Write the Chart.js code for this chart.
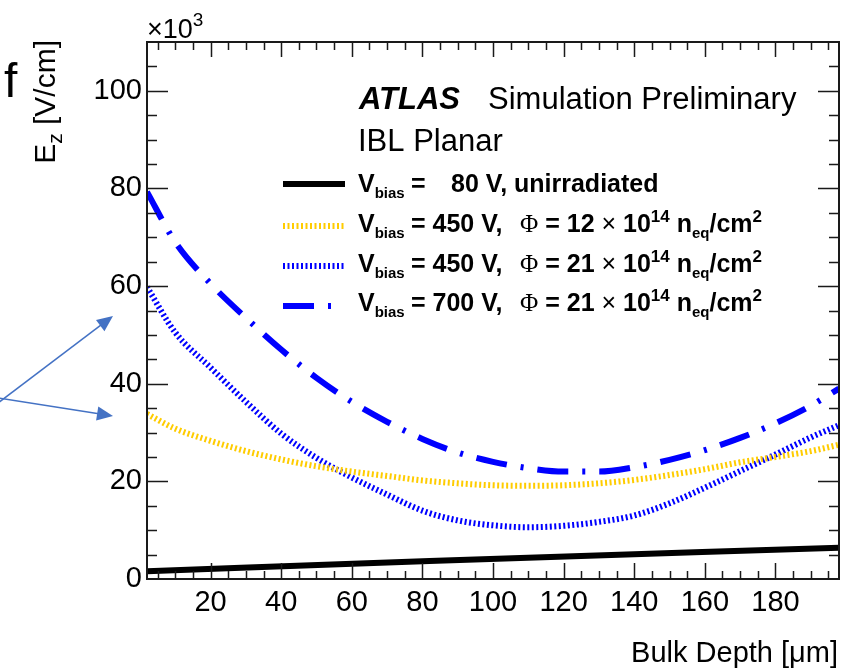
<!DOCTYPE html>
<html>
<head>
<meta charset="utf-8">
<script src="https://cdn.jsdelivr.net/npm/chart.js@4.4.0/dist/chart.umd.min.js"></script>
<style>
  html, body { margin: 0; padding: 0; background: #fff; }
  #wrap { width: 859px; height: 670px; }
</style>
</head>
<body>
<div id="wrap"><canvas id="chartField" width="859" height="670"></canvas></div>
<script>
// Ez vs bulk depth, IBL planar sensor

const depth = [2, 10, 20, 30, 40, 50, 60, 70, 80, 90, 100, 110, 120, 130, 140, 150, 160, 170, 180, 190, 198];
const field700 = [79.3, 69.0, 60.5, 53.5, 47.0, 41.2, 36.3, 32.2, 28.7, 25.9, 24.0, 22.7, 22.0, 22.0, 22.9, 24.4, 26.4, 28.9, 31.9, 35.5, 39.0];
const field450hi = [59.8, 50.5, 43.3, 36.3, 29.8, 24.8, 20.8, 17.3, 14.0, 12.0, 11.0, 10.6, 10.9, 11.7, 13.0, 15.5, 18.7, 22.1, 25.5, 29.0, 31.5];
const field450lo = [33.8, 30.8, 28.3, 26.2, 24.5, 23.1, 22.0, 21.1, 20.2, 19.6, 19.2, 19.1, 19.2, 19.6, 20.3, 21.3, 22.5, 23.9, 25.0, 26.2, 27.5];
const depth80 = [2, 82, 198];
const field80 = [1.6, 3.7, 6.4];

const xTicks = [20, 40, 60, 80, 100, 120, 140, 160, 180];
const yTicks = [0, 20, 40, 60, 80, 100];

const SANS = '"Liberation Sans", Arial, sans-serif';
const SERIF = '"Liberation Serif", "Times New Roman", serif';
const B = 'bold 25px ' + SANS;
const BS = 'bold 15px ' + SANS;
const BP = 'bold 17px ' + SANS;
const R = '25px ' + SANS;
const PHI = '25px ' + SERIF;

const legendRows = [
    [{ t: 'V', f: B }, { t: 'bias', f: BS, dy: 6 }, { t: '=', f: B, x: 411 }, { t: '80 V, unirradiated', f: B, x: 451 }],
    [{ t: 'V', f: B }, { t: 'bias', f: BS, dy: 6 }, { t: '= 450 V,', f: B, x: 411 }, { t: 'Φ', f: PHI, x: 520 }, { t: ' = 12 ', f: B },
     { t: '×', f: R }, { t: ' 10', f: B }, { t: '14', f: BP, dy: -10 }, { t: ' n', f: B }, { t: 'eq', f: BS, dy: 6 }, { t: '/cm', f: B }, { t: '2', f: BP, dy: -10 }],
    [{ t: 'V', f: B }, { t: 'bias', f: BS, dy: 6 }, { t: '= 450 V,', f: B, x: 411 }, { t: 'Φ', f: PHI, x: 520 }, { t: ' = 21 ', f: B },
     { t: '×', f: R }, { t: ' 10', f: B }, { t: '14', f: BP, dy: -10 }, { t: ' n', f: B }, { t: 'eq', f: BS, dy: 6 }, { t: '/cm', f: B }, { t: '2', f: BP, dy: -10 }],
    [{ t: 'V', f: B }, { t: 'bias', f: BS, dy: 6 }, { t: '= 700 V,', f: B, x: 411 }, { t: 'Φ', f: PHI, x: 520 }, { t: ' = 21 ', f: B },
     { t: '×', f: R }, { t: ' 10', f: B }, { t: '14', f: BP, dy: -10 }, { t: ' n', f: B }, { t: 'eq', f: BS, dy: 6 }, { t: '/cm', f: B }, { t: '2', f: BP, dy: -10 }],
];

const DOT = [2, 2.5];
const DASHDOT = [31, 14, 3, 14];
const YELLOW = 'rgb(255,204,0)';
const BLUE = 'rgb(0,0,255)';

const toPts = (xs, ys) => xs.map((x, i) => ({ x: x, y: ys[i] }));

// draw a run of text pieces, moving right as we go
drawRun = (ctx, x, y, parts) => {
    parts.forEach((p) => {
        if (p.x !== undefined) x = p.x;
        ctx.font = p.f;
        ctx.fillText(p.t, x, y + (p.dy || 0));
        x += ctx.measureText(p.t).width;
    });
};

drawArrow = (ctx, x0, y0, x1, y1) => {
    const a = Math.atan2(y1 - y0, x1 - x0);
    const len = 16, half = 7;
    ctx.beginPath();
    ctx.moveTo(x0, y0);
    ctx.lineTo(x1 - Math.cos(a) * len * 0.8, y1 - Math.sin(a) * len * 0.8);
    ctx.stroke();
    ctx.beginPath();
    ctx.moveTo(x1, y1);
    ctx.lineTo(x1 - Math.cos(a) * len - Math.sin(a) * half, y1 - Math.sin(a) * len + Math.cos(a) * half);
    ctx.lineTo(x1 - Math.cos(a) * len + Math.sin(a) * half, y1 - Math.sin(a) * len - Math.cos(a) * half);
    ctx.closePath();
    ctx.fill();
};

const rootFrame = {
    id: 'rootFrame',
    afterDraw(chart) {
        const ctx = chart.ctx;
        const a = chart.chartArea;
        const xs = chart.scales.x, ys = chart.scales.y;
        ctx.save();

        // frame + inward ticks
        ctx.strokeStyle = '#1a1a1a';
        ctx.lineWidth = 2;
        ctx.strokeRect(a.left, a.top, a.right - a.left, a.bottom - a.top);
        ctx.lineWidth = 1.5;
        ctx.beginPath();
        for (let v = 5; v < 198; v += 5) {
            const px = Math.round(xs.getPixelForValue(v)) + 0.5;
            const major = v % 20 === 0;
            ctx.moveTo(px, a.bottom); ctx.lineTo(px, a.bottom - (major ? 16 : 8));
            ctx.moveTo(px, a.top); ctx.lineTo(px, a.top + (major ? 15 : 8));
        }
        for (let v = 5; v < 110; v += 5) {
            const py = Math.round(ys.getPixelForValue(v)) + 0.5;
            const major = v % 20 === 0;
            ctx.moveTo(a.left, py); ctx.lineTo(a.left + (major ? 21 : 10), py);
            ctx.moveTo(a.right, py); ctx.lineTo(a.right - (major ? 21 : 10), py);
        }
        ctx.stroke();

        ctx.fillStyle = '#000';
        ctx.textBaseline = 'alphabetic';
        ctx.textAlign = 'left';

        // x10^3
        drawRun(ctx, 147, 38, [{ t: '×10', f: '27px ' + SANS }, { t: '3', f: '19px ' + SANS, dy: -12 }]);

        // axis titles
        ctx.font = '29px ' + SANS;
        ctx.textAlign = 'right';
        ctx.fillText('Bulk Depth [μm]', 838, 662);
        ctx.textAlign = 'left';

        ctx.save();
        ctx.translate(55, 40);
        ctx.rotate(-Math.PI / 2);
        ctx.font = '30px ' + SANS;
        const w1 = ctx.measureText('E').width;
        ctx.font = '21px ' + SANS;
        const w2 = ctx.measureText('z').width;
        ctx.font = '30px ' + SANS;
        const w3 = ctx.measureText(' [V/cm]').width;
        drawRun(ctx, -(w1 + w2 + w3), 0, [{ t: 'E', f: '30px ' + SANS }, { t: 'z', f: '21px ' + SANS, dy: 7 }, { t: ' [V/cm]', f: '30px ' + SANS }]);
        ctx.restore();

        // stray letter + arrows at the left edge
        ctx.font = '48px ' + SANS;
        ctx.fillText('f', 4, 97);
        ctx.strokeStyle = '#4472C4';
        ctx.fillStyle = '#4472C4';
        ctx.lineWidth = 1.5;
        drawArrow(ctx, -2, 403, 113, 316);
        drawArrow(ctx, -2, 398, 113, 416);

        // ATLAS label
        ctx.fillStyle = '#000';
        ctx.font = 'italic bold 31px ' + SANS;
        ctx.fillText('ATLAS', 359, 109);
        ctx.font = '31px ' + SANS;
        ctx.fillText('Simulation Preliminary', 488, 109);
        ctx.fillText('IBL Planar', 358, 151);

        // legend
        const rowY = [192, 232, 272, 311];
        const sampleY = [184, 226, 266, 306];
        chart.data.datasets.forEach((ds, i) => {
            ctx.strokeStyle = ds.borderColor;
            ctx.lineWidth = ds.borderWidth;
            ctx.setLineDash(ds.borderDash || []);
            ctx.lineCap = 'butt';
            ctx.beginPath();
            ctx.moveTo(283, sampleY[i]);
            ctx.lineTo(345, sampleY[i]);
            ctx.stroke();
            ctx.setLineDash([]);
            ctx.fillStyle = '#000';
            drawRun(ctx, 358, rowY[i], legendRows[i]);
        });

        ctx.restore();
    },
};

setupChart = () => {
    const lineOpts = { pointRadius: 0, fill: false, cubicInterpolationMode: 'monotone', borderCapStyle: 'butt' };

    const config = {
        type: 'line',
        data: {
            datasets: [
                Object.assign({ label: '80 V, unirradiated', data: toPts(depth80, field80), borderColor: '#000', borderWidth: 6 }, lineOpts),
                Object.assign({ label: '450 V, 12e14', data: toPts(depth, field450lo), borderColor: YELLOW, borderWidth: 6, borderDash: DOT }, lineOpts),
                Object.assign({ label: '450 V, 21e14', data: toPts(depth, field450hi), borderColor: BLUE, borderWidth: 6, borderDash: DOT }, lineOpts),
                Object.assign({ label: '700 V, 21e14', data: toPts(depth, field700), borderColor: BLUE, borderWidth: 6, borderDash: DASHDOT }, lineOpts),
            ],
        },
        options: {
            responsive: false,
            animation: false,
            layout: { padding: { left: 0, right: 20, top: 42, bottom: 0 } },
            plugins: { legend: { display: false }, tooltip: { enabled: false } },
            scales: {
                x: {
                    type: 'linear',
                    min: 2,
                    max: 198,
                    grid: { display: false, drawTicks: false },
                    border: { display: false },
                    afterBuildTicks: (s) => { s.ticks = xTicks.map((v) => ({ value: v })); },
                    afterFit: (s) => { s.height = 91; },
                    ticks: { color: '#000', padding: 7, maxRotation: 0, autoSkip: false, font: { family: SANS, size: 29 } },
                },
                y: {
                    type: 'linear',
                    min: 0,
                    max: 110,
                    grid: { display: false, drawTicks: false },
                    border: { display: false },
                    afterBuildTicks: (s) => { s.ticks = yTicks.map((v) => ({ value: v })); },
                    afterFit: (s) => { s.width = 147; },
                    ticks: { color: '#000', padding: 5, autoSkip: false, font: { family: SANS, size: 29 } },
                },
            },
        },
        plugins: [rootFrame],
    };

    new Chart(document.getElementById('chartField'), config);
};

setupChart();
</script>
</body>
</html>
